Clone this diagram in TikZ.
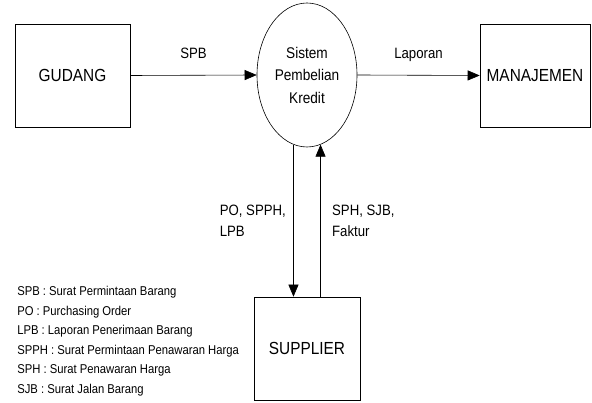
\documentclass[tikz,border=0pt]{standalone}
\usepackage{fontspec}
\setmainfont{Liberation Sans}[FakeStretch=0.88]
\usetikzlibrary{shapes,arrows}
\usetikzlibrary{arrows.meta}

\tikzset{
	entitas/.style={draw, rectangle, inner sep=0pt, font=\fontsize{17.5}{20}\selectfont},
	proses/.style={draw, ellipse, inner sep=0pt, minimum width=100pt, minimum height=144pt,
		align=center, font=\fontsize{15.5}{22.5}\selectfont},
	aliran/.style={font=\fontsize{15}{21}\selectfont, align=left},
	ket/.style={font=\fontsize{12.8}{14}\selectfont, anchor=base west, inner sep=0pt}
}

\begin{document}
\begin{tikzpicture}[x=1pt, y=-1pt, line width=0.6pt, >={Triangle[length=12pt, width=10pt]}]
	\useasboundingbox (0,0) rectangle (592,403);

	\node[entitas, minimum width=115pt, minimum height=103pt] (gudang) at (72.5,75.5) {GUDANG};
	\node[proses] (sistem) at (307,75) {Sistem\\Pembelian\\Kredit};
	\node[entitas, minimum width=110pt, minimum height=103pt] (manajemen) at (535,75.5) {MANAJEMEN};
	\node[entitas, minimum width=106pt, minimum height=103pt] (supplier) at (307,348.5) {SUPPLIER};

	\draw[->] (gudang.east) -- (sistem.west)
		node[midway, aliran, anchor=base, yshift=17pt] (spb) {SPB};
	\draw[->] (sistem.east) -- (manajemen.west)
		node[midway, aliran, anchor=base, yshift=17pt] (laporan) {Laporan};
	\draw[->] (sistem.259) -- (sistem.259 |- supplier.north)
		node[midway, aliran, left=4pt] (po) {PO, SPPH,\\LPB};
	\draw[->] (sistem.281 |- supplier.north) -- (sistem.281)
		node[midway, aliran, right=8pt] (sph) {SPH, SJB,\\Faktur};

%	keterangan singkatan
	\foreach \txt [count=\i] in {{SPB : Surat Permintaan Barang},
			{PO : Purchasing Order},
			{LPB : Laporan Penerimaan Barang},
			{SPPH : Surat Permintaan Penawaran Harga},
			{SPH : Surat Penawaran Harga},
			{SJB : Surat Jalan Barang}}
		\node[ket] (ket\i) at (17,{296+19.4*(\i-1)}) {\txt};
\end{tikzpicture}
\end{document}
